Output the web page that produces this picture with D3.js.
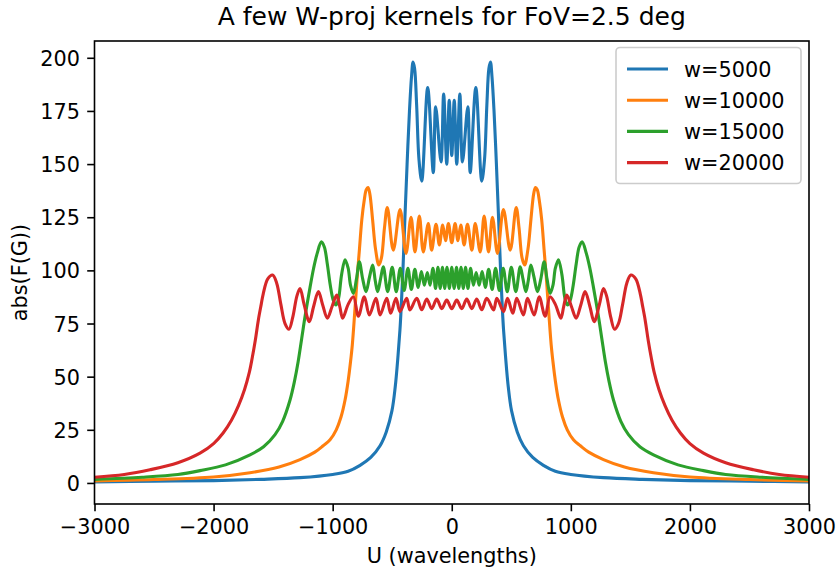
<!DOCTYPE html>
<html>
<head>
<meta charset="utf-8">
<script src="https://cdn.jsdelivr.net/npm/d3@7"></script>
<style>
  body { margin: 0; background: #fff; }
  svg { display: block; font-family: "DejaVu Sans", sans-serif; }
</style>
</head>
<body>
<div id="chart"></div>
<script>
// ---- Data ----
const seriesLabels = ["w=5000", "w=10000", "w=15000", "w=20000"];
const seriesColors = ["#1f77b4", "#ff7f0e", "#2ca02c", "#d62728"];
const xTicks = [-3000, -2000, -1000, 0, 1000, 2000, 3000];
const yTicks = [0, 25, 50, 75, 100, 125, 150, 175, 200];

// [U, abs(F(G))]
const w5000 = [
  [-3000,0.5],[-2500,0.8],[-2000,1.1],[-1600,1.7],[-1274,2.5],[-1000,4],[-870,5.5],[-770,8.3],[-680,12],[-602,17.5],[-550,24],[-502,34],[-475,45],[-451,60],[-435,72],[-425,82],[-410,100],[-393,125],[-375,150],[-355,175],[-338,191],[-325,198],[-312,195],[-295,178],[-275,152],[-252,142],
  [-202,186],[-155,146],[-135,177],[-90,151],[-68,183],[-42,150],[-21,180],[0,154],[21,180],[42,150],[68,183],[90,151],[135,177],[155,146],[202,186],
  [252,142],[275,152],[295,178],[312,195],[325,198],[338,191],[355,175],[375,150],[393,125],[410,100],[425,82],[435,72],[451,60],[475,45],[502,34],[550,24],[602,17.5],[680,12],[770,8.3],[870,5.5],[1000,4],[1274,2.5],[1600,1.7],[2000,1.1],[2500,0.8],[3000,0.5]
];
const w10000 = [
  [-3000,1.0],[-2500,1.6],[-2000,2.8],[-1694,4.8],[-1450,7.5],[-1274,11],[-1150,14.5],[-1080,17.5],[-1022,20.3],[-970,25],[-930,31],[-896,39],[-870,48],[-850,57],[-835,65],[-815,80],[-795,96],[-775,110],[-755,124],[-735,133],[-718,138],[-703,139],[-688,136],[-665,124],[-640,110],[-612,102.5],[-590,106],[-565,120],
  [-541,129.6],[-491,109.5],[-434,128.6],[-384,108],[-342,125],[-309,108.7],[-272,125.5],[-239,108.7],[-197,122],[-169,109.5],[-132,121.7],[-104,112],[-76,121.3],[-52,114],[-28,122],[0,113],
  [28,122],[52,114],[76,121.3],[104,112],[132,121.7],[169,109.5],[197,122],[239,108.7],[272,125.5],[309,108.7],[342,125],[384,108],[434,128.6],[491,109.5],[541,129.6],
  [565,120],[590,106],[612,102.5],[640,110],[665,124],[688,136],[703,139],[718,138],[735,133],[755,124],[775,110],[795,96],[815,80],[835,65],[850,57],[870,48],[896,39],[930,31],[970,25],[1022,20.3],[1080,17.5],[1150,14.5],[1274,11],[1450,7.5],[1694,4.8],[2000,2.8],[2500,1.6],[3000,1.0]
];
const w15000 = [
  [-3000,1.7],[-2600,2.7],[-2300,4],[-2114,5.8],[-1900,8.5],[-1694,13.2],[-1580,17],[-1484,22.7],[-1420,29],[-1358,39],[-1320,48],[-1290,57],[-1260,68],[-1230,79],[-1190,92],[-1160,101],[-1130,108],[-1095,113.4],[-1070,111],[-1045,103],[-1020,93],[-995,86],[-972,83.7],[-950,87],[-925,98],[-896,105],[-870,101],[-850,93],[-826,89.2],[-800,96],[-776,104],[-748,96],[-720,90],[-690,97],[-664,102.5],[-642,95],[-622,90],[-598,96],[-575,101.7],
  [-538,90],[-500,101.4],[-466,90],[-432,101],[-400,90.5],[-368,101],[-339,91],[-310,100.5],[-282,92],[-255,99.5],[-230,93],[-205,99],[-182,93],[-158,101],[-136,91.5],[-116,101.5],[-97,91.5],[-78,101.5],[-59,91.5],[-40,101.5],[-20,91.5],[0,101.5],
  [20,91.5],[40,101.5],[59,91.5],[78,101.5],[97,91.5],[116,101.5],[136,91.5],[158,101],[182,93],[205,99],[230,93],[255,99.5],[282,92],[310,100.5],[339,91],[368,101],[400,90.5],[432,101],[466,90],[500,101.4],[538,90],
  [575,101.7],[598,96],[622,90],[642,95],[664,102.5],[690,97],[720,90],[748,96],[776,104],[800,96],[826,89.2],[850,93],[870,101],[896,105],[925,98],[950,87],[972,83.7],[995,86],[1020,93],[1045,103],[1070,111],[1095,113.4],[1130,108],[1160,101],[1190,92],[1230,79],[1260,68],[1290,57],[1320,48],[1358,39],[1420,29],[1484,22.7],[1580,17],[1694,13.2],[1900,8.5],[2114,5.8],[2300,4],[2600,2.7],[3000,1.7]
];
const w20000 = [
  [-3000,2.7],[-2750,4],[-2534,6.2],[-2300,9.5],[-2114,14],[-2000,18.5],[-1920,23.5],[-1850,29.5],[-1790,36.5],[-1740,44],[-1700,52],[-1675,59],[-1650,67],[-1624,76.7],[-1600,84],[-1583,89],[-1545,96],[-1504,97.8],[-1470,94],[-1435,84],[-1400,75],[-1367,72.3],[-1335,78],[-1300,88],[-1274,91.5],[-1240,84],[-1196,75.9],[-1160,83],[-1120,90],[-1085,84],[-1045,77.5],[-1005,83],[-966,88.4],[-940,83],[-916,77.5],[-870,84],
  [-826,87.6],[-784,78.5],[-734,87.6],[-692,79],[-636,86.9],[-602,79],[-546,86.9],[-513,79.8],[-468,86.9],[-435,80.6],[-379,86.9],[-351,81.4],[-294,86.9],[-252,81.5],[-210,86.5],[-168,82],[-126,86.5],[-84,82],[-42,86],[0,82],
  [42,86],[84,82],[126,86.5],[168,82],[210,86.5],[252,81.5],[294,86.9],[351,81.4],[379,86.9],[435,80.6],[468,86.9],[513,79.8],[546,86.9],[602,79],[636,86.9],[692,79],[734,87.6],[784,78.5],[826,87.6],
  [870,84],[916,77.5],[940,83],[966,88.4],[1005,83],[1045,77.5],[1085,84],[1120,90],[1160,83],[1196,75.9],[1240,84],[1274,91.5],[1300,88],[1335,78],[1367,72.3],[1400,75],[1435,84],[1470,94],[1504,97.8],[1545,96],[1583,89],[1600,84],[1624,76.7],[1650,67],[1675,59],[1700,52],[1740,44],[1790,36.5],[1850,29.5],[1920,23.5],[2000,18.5],[2114,14],[2300,9.5],[2534,6.2],[2750,4],[3000,2.7]
];
const seriesData = [w5000, w10000, w15000, w20000];

// ---- Layout ----
const W = 839, H = 573;
const plot = { left: 94.5, right: 809, top: 41, bottom: 504 };
const FS = 20.8;

const svg = d3.select("#chart").append("svg").attr("width", W).attr("height", H);

const x = d3.scaleLinear().domain([-3000, 3000]).range([plot.left, plot.right]);
const y = d3.scaleLinear().domain([-9.9, 207.9]).range([plot.bottom, plot.top]);

svg.append("defs").append("clipPath").attr("id", "clip")
  .append("rect").attr("x", plot.left).attr("y", plot.top)
  .attr("width", plot.right - plot.left).attr("height", plot.bottom - plot.top);

const line = d3.line().x(d => x(d[0])).y(d => y(d[1])).curve(d3.curveCatmullRom.alpha(0.5));

const g = svg.append("g").attr("clip-path", "url(#clip)");
seriesData.forEach((s, i) => {
  g.append("path").attr("d", line(s)).attr("fill", "none")
    .attr("stroke", seriesColors[i]).attr("stroke-width", 3.1)
    .attr("stroke-linejoin", "round").attr("stroke-linecap", "square");
});

// Axes
const xAxis = d3.axisBottom(x).tickValues(xTicks).tickSize(7.3).tickPadding(8.3)
  .tickFormat(d => d < 0 ? "\u2212" + Math.abs(d) : String(d));
const yAxis = d3.axisLeft(y).tickValues(yTicks).tickSize(7.3).tickPadding(7.3);

const gx = svg.append("g").attr("transform", `translate(0,${plot.bottom})`).call(xAxis);
const gy = svg.append("g").attr("transform", `translate(${plot.left},0)`).call(yAxis);
[gx, gy].forEach(a => {
  a.select(".domain").remove();
  a.selectAll(".tick line").attr("stroke", "#000").attr("stroke-width", 1.6);
  a.selectAll(".tick text").attr("fill", "#000").attr("font-size", FS).attr("font-family", "DejaVu Sans");
});
gx.selectAll(".tick text").attr("dy", "0.71em");
gy.selectAll(".tick text").attr("dy", "0.36em");

// Frame
svg.append("rect").attr("x", plot.left).attr("y", plot.top)
  .attr("width", plot.right - plot.left).attr("height", plot.bottom - plot.top)
  .attr("fill", "none").attr("stroke", "#000").attr("stroke-width", 1.6);

// Title and labels
svg.append("text").attr("x", (plot.left + plot.right) / 2).attr("y", 25)
  .attr("text-anchor", "middle").attr("font-size", 25).attr("fill", "#000")
  .text("A few W-proj kernels for FoV=2.5 deg");
svg.append("text").attr("x", (plot.left + plot.right) / 2).attr("y", 563)
  .attr("text-anchor", "middle").attr("font-size", FS).attr("fill", "#000")
  .text("U (wavelengths)");
svg.append("text").attr("transform", `translate(27,${(plot.top + plot.bottom) / 2}) rotate(-90)`)
  .attr("text-anchor", "middle").attr("font-size", FS).attr("fill", "#000")
  .text("abs(F(G))");

// Legend
const lg = svg.append("g");
lg.append("rect").attr("x", 616).attr("y", 47.5).attr("width", 185).attr("height", 136)
  .attr("rx", 4).attr("fill", "#fff").attr("fill-opacity", 0.8)
  .attr("stroke", "#ccc").attr("stroke-width", 1.6);
seriesLabels.forEach((lab, i) => {
  const yy = 69 + i * 31.2;
  lg.append("line").attr("x1", 627).attr("x2", 668).attr("y1", yy).attr("y2", yy)
    .attr("stroke", seriesColors[i]).attr("stroke-width", 3.1);
  lg.append("text").attr("x", 684).attr("y", yy + 7.5).attr("font-size", FS).attr("fill", "#000").text(lab);
});
</script>
</body>
</html>
